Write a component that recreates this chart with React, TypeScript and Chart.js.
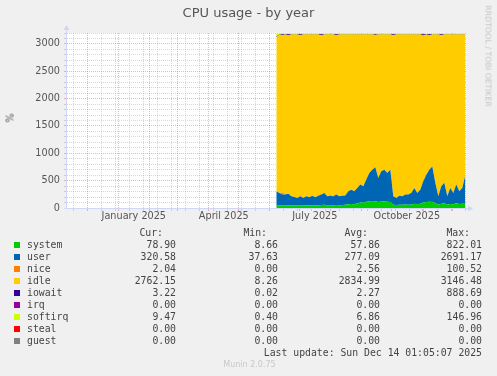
import React, { useEffect, useRef } from "react";
import { Chart, registerables } from "chart.js";
Chart.register(...registerables);

// ---- data (daily averages sampled every 3 days) ----
const dates = [
  "2025-06-08","2025-06-11","2025-06-14","2025-06-17","2025-06-20","2025-06-23","2025-06-26","2025-06-29",
  "2025-07-02","2025-07-05","2025-07-08","2025-07-11","2025-07-14","2025-07-17","2025-07-20","2025-07-23","2025-07-26","2025-07-29",
  "2025-08-01","2025-08-04","2025-08-07","2025-08-10","2025-08-13","2025-08-16","2025-08-19","2025-08-22","2025-08-25","2025-08-28","2025-08-31",
  "2025-09-03","2025-09-06","2025-09-09","2025-09-12","2025-09-15","2025-09-18","2025-09-21","2025-09-24","2025-09-27","2025-09-30",
  "2025-10-03","2025-10-06","2025-10-09","2025-10-12","2025-10-15","2025-10-18","2025-10-21","2025-10-24","2025-10-27","2025-10-30",
  "2025-11-02","2025-11-05","2025-11-08","2025-11-11","2025-11-14","2025-11-17","2025-11-20","2025-11-23","2025-11-26","2025-11-29",
  "2025-12-02","2025-12-05","2025-12-08","2025-12-11","2025-12-14",
];
const system = [
  55,50,50,50,52,48,45,45,
  50,45,50,48,50,48,52,55,58,50,
  52,50,55,52,55,58,70,75,70,85,100,
  95,115,125,130,125,110,120,125,115,110,
  60,55,60,58,62,60,65,80,70,80,
  100,110,115,110,90,60,80,85,60,75,
  70,85,75,80,80,
];
const user = [
  250,225,195,195,208,167,155,140,
  165,140,165,147,175,147,173,190,217,165,
  173,165,190,163,170,172,235,260,235,280,330,
  305,405,515,570,620,440,550,575,525,590,
  155,130,165,157,183,185,210,285,205,255,
  390,500,585,650,370,155,320,375,155,290,
  205,345,230,285,520,
];
const nice = [
  3,6,35,8,3,3,3,3,
  3,3,3,3,3,3,3,3,3,3,
  3,3,3,3,3,3,3,3,3,3,3,
  3,3,3,3,3,3,3,3,3,3,
  3,3,3,3,3,3,3,3,3,3,
  3,3,3,3,3,3,3,3,3,3,
  3,3,3,3,2,
];
const idle = [
  2814,2884,2880,2920,2892,2955,2970,2985,
  2942,2985,2955,2975,2945,2975,2945,2907,2895,2955,
  2945,2955,2912,2955,2945,2940,2865,2835,2865,2805,2740,
  2770,2650,2530,2470,2417,2620,2500,2470,2530,2470,
  2942,2985,2945,2955,2925,2925,2895,2805,2895,2835,
  2662,2560,2452,2410,2710,2955,2757,2710,2955,2805,
  2895,2740,2865,2805,2568,
];
const iowait = [
  20,2,15,2,20,2,2,2,
  15,2,2,2,2,2,2,20,2,2,
  2,2,15,2,2,2,2,2,2,2,2,
  2,2,2,2,10,2,2,2,2,2,
  15,2,2,2,2,2,2,2,2,2,
  20,2,20,2,2,2,15,2,2,2,
  2,2,2,2,3,
];
const irq = [
  0,0,0,0,0,0,0,0,
  0,0,0,0,0,0,0,0,0,0,
  0,0,0,0,0,0,0,0,0,0,0,
  0,0,0,0,0,0,0,0,0,0,
  0,0,0,0,0,0,0,0,0,0,
  0,0,0,0,0,0,0,0,0,0,
  0,0,0,0,0,
];
const softirq = [
  40,15,7,7,7,7,7,7,
  7,7,7,7,7,7,7,7,7,7,
  7,7,7,7,7,7,7,7,7,7,7,
  7,7,7,7,7,7,7,7,7,7,
  7,7,7,7,7,7,7,7,7,7,
  7,7,7,7,7,7,7,7,7,7,
  7,7,7,7,9,
];
const steal = [
  0,0,0,0,0,0,0,0,
  0,0,0,0,0,0,0,0,0,0,
  0,0,0,0,0,0,0,0,0,0,0,
  0,0,0,0,0,0,0,0,0,0,
  0,0,0,0,0,0,0,0,0,0,
  0,0,0,0,0,0,0,0,0,0,
  0,0,0,0,0,
];
const guest = [
  0,0,0,0,0,0,0,0,
  0,0,0,0,0,0,0,0,0,0,
  0,0,0,0,0,0,0,0,0,0,0,
  0,0,0,0,0,0,0,0,0,0,
  0,0,0,0,0,0,0,0,0,0,
  0,0,0,0,0,0,0,0,0,0,
  0,0,0,0,0,
];

const seriesNames = ["system","user","nice","idle","iowait","irq","softirq","steal","guest"];
const seriesColors = ["#00cc00","#0066b3","#ff8000","#ffcc00","#330099","#990099","#ccff00","#ff0000","#808080"];
const curVals = ["78.90","320.58","2.04","2762.15","3.22","0.00","9.47","0.00","0.00"];
const minVals = ["8.66","37.63","0.00","8.26","0.02","0.00","0.40","0.00","0.00"];
const avgVals = ["57.86","277.09","2.56","2834.99","2.27","0.00","6.86","0.00","0.00"];
const maxVals = ["822.01","2691.17","100.52","3146.48","888.69","0.00","146.96","0.00","0.00"];

// axis
const xStart = "2024-11-10";
const xEnd = "2025-12-14";
const monthGrid = [
  "2024-12-01","2025-01-01","2025-02-01","2025-03-01","2025-04-01","2025-05-01","2025-06-01",
  "2025-07-01","2025-08-01","2025-09-01","2025-10-01","2025-11-01","2025-12-01",
];
const minorGridStart = "2024-11-17";
const xTickMonths = ["2025-01-01","2025-04-01","2025-07-01","2025-10-01"];
const xTickLabels = ["January 2025","April 2025","July 2025","October 2025"];
const yMax = 3200;

const dayOf = (s: string) => {
  const [y, m, d] = s.split("-").map(Number);
  return (Date.UTC(y, m - 1, d) - Date.UTC(2024, 11, 1)) / 86400000;
};

const MAJOR = "rgba(222,79,79,0.42)";
const MINOR = "rgba(143,143,143,0.36)";
const AXIS = "#CFD6F8";
const FONT = "#555";

export default function App() {
  const ref = useRef<HTMLCanvasElement>(null);
  useEffect(() => {
    document.body.style.margin = "0";
    const valuesList = [system, user, nice, idle, iowait, irq, softirq, steal, guest];
    const datasets = valuesList.map((vals, k) => ({
      label: seriesNames[k],
      data: vals.map((v, i) => ({ x: dayOf(dates[i]), y: v })),
      backgroundColor: seriesColors[k],
      borderColor: seriesColors[k],
      borderWidth: seriesNames[k] === "softirq" ? 1 : 0,
      pointRadius: 0,
      tension: 0,
      fill: k === 0 ? "origin" : "-1",
    }));

    const majorDays = monthGrid.map(dayOf);
    const minorDays: number[] = [];
    for (let d = dayOf(minorGridStart); d <= dayOf(xEnd); d += 14) minorDays.push(d);
    const labelDays = xTickMonths.map((m) => dayOf(m) + 15.5);
    const xMin = dayOf(xStart) - 0.3;
    const xMax = xMin + 400;

    const kind = (v: number) => {
      if (majorDays.some((d) => Math.abs(d - v) < 0.01)) return "major";
      if (minorDays.some((d) => Math.abs(d - v) < 0.01)) return "minor";
      return "label";
    };

    const bgPlugin = {
      id: "bg",
      beforeDraw(chart: any) {
        const { ctx, chartArea: a } = chart;
        ctx.save();
        ctx.fillStyle = "#ffffff";
        ctx.fillRect(a.left, a.top, a.right - a.left, a.bottom - a.top);
        ctx.restore();
      },
      afterDraw(chart: any) {
        const { ctx, chartArea: a } = chart;
        ctx.save();
        ctx.strokeStyle = AXIS;
        ctx.fillStyle = AXIS;
        ctx.lineWidth = 1;
        const x0 = Math.floor(a.left) + 0.5;
        const y0 = Math.floor(a.bottom) + 0.5;
        ctx.beginPath();
        ctx.moveTo(x0, a.top);
        ctx.lineTo(x0, a.top - 4);
        ctx.moveTo(a.right, y0);
        ctx.lineTo(a.right + 3, y0);
        ctx.moveTo(x0 - 2, y0);
        ctx.lineTo(x0, y0);
        ctx.stroke();
        ctx.beginPath();
        ctx.moveTo(x0, a.top - 8);
        ctx.lineTo(x0 - 3, a.top - 3);
        ctx.lineTo(x0 + 3, a.top - 3);
        ctx.closePath();
        ctx.fill();
        ctx.beginPath();
        ctx.moveTo(a.right + 7, y0);
        ctx.lineTo(a.right + 2, y0 - 3);
        ctx.lineTo(a.right + 2, y0 + 3);
        ctx.closePath();
        ctx.fill();
        ctx.restore();
      },
    };

    const chart = new Chart(ref.current!, {
      type: "line",
      data: { datasets } as any,
      plugins: [bgPlugin],
      options: {
        animation: false,
        responsive: false,
        devicePixelRatio: 1,
        layout: { padding: { left: 0, top: 33, right: 31, bottom: 148 } },
        plugins: { legend: { display: false }, tooltip: { enabled: false }, title: { display: false } },
        scales: {
          x: {
            type: "linear",
            min: xMin,
            max: xMax,
            z: 1,
            afterFit: (s: any) => { s.height = 20; },
            afterBuildTicks: (s: any) => {
              const all = [...majorDays, ...minorDays.filter((d) => !majorDays.includes(d)), ...labelDays];
              s.ticks = all.sort((a, b) => a - b).map((v) => ({ value: v }));
            },
            grid: {
              color: (c: any) => {
                const k = kind(c.tick?.value);
                return k === "major" ? MAJOR : k === "minor" ? MINOR : "rgba(0,0,0,0)";
              },
              drawTicks: true,
              tickLength: 3,
              lineWidth: 1,
            },
            border: { display: true, color: AXIS, width: 1, dash: [1, 1] },
            ticks: {
              autoSkip: false,
              maxRotation: 0,
              minRotation: 0,
              padding: 0,
              color: FONT,
              font: { family: "DejaVu Sans", size: 9.7 },
              callback: (v: any) => {
                const i = labelDays.findIndex((d) => Math.abs(d - v) < 0.01);
                return i >= 0 ? xTickLabels[i] : "";
              },
            },
          },
          y: {
            type: "linear",
            stacked: true,
            min: 0,
            max: yMax,
            z: 1,
            afterFit: (s: any) => { s.width = 66; },
            afterBuildTicks: (s: any) => {
              const t = [];
              for (let v = 0; v <= yMax; v += 100) t.push({ value: v });
              s.ticks = t;
            },
            grid: {
              color: (c: any) => {
                const v = c.tick?.value;
                if (v === 0) return "rgba(0,0,0,0)";
                return v % 500 === 0 ? MAJOR : MINOR;
              },
              drawTicks: true,
              tickLength: 2,
            },
            border: { display: true, color: AXIS, width: 1, dash: [1, 1] },
            ticks: {
              autoSkip: false,
              padding: 4,
              color: FONT,
              font: { family: "DejaVu Sans", size: 9.7 },
              callback: (v: any) => (v % 500 === 0 ? String(v) : ""),
            },
          },
        },
      } as any,
    });
    return () => chart.destroy();
  }, []);

  const mono: React.CSSProperties = {
    position: "absolute",
    fontFamily: "'DejaVu Sans Mono', monospace",
    fontSize: "9.8px",
    lineHeight: "12px",
    color: "#444",
    whiteSpace: "pre",
  };
  const rowY = (i: number) => 239 + i * 12;
  const cols = [
    { head: "Cur:", headEnd: 163, end: 176, vals: curVals },
    { head: "Min:", headEnd: 267, end: 278, vals: minVals },
    { head: "Avg:", headEnd: 368, end: 380, vals: avgVals },
    { head: "Max:", headEnd: 470, end: 482, vals: maxVals },
  ];

  return (
    <div style={{ position: "fixed", left: 0, top: 0, width: 497, height: 376, background: "#f0f0f0", overflow: "hidden" }}>
      <canvas ref={ref} width={497} height={376} style={{ position: "absolute", left: 0, top: 0, width: 497, height: 376 }} />
      <div style={{ position: "absolute", left: 0, width: 497, top: 5, textAlign: "center", fontFamily: "'DejaVu Sans'", fontSize: "13px", lineHeight: "16px", color: "#555" }}>
        CPU usage - by year
      </div>
      <div style={{ position: "absolute", left: 10, top: 118, transform: "translate(-50%,-50%) rotate(-90deg)", fontFamily: "'DejaVu Sans'", fontSize: "9.7px", color: FONT, whiteSpace: "pre" }}>
        %
      </div>
      <div style={{ position: "absolute", left: 487.5, top: 56, transform: "translate(-50%,-50%) rotate(90deg)", fontFamily: "'DejaVu Sans'", fontSize: "7.9px", color: "#c4c4c4", whiteSpace: "pre" }}>
        RRDTOOL / TOBI OETIKER
      </div>
      {cols.map((c) => (
        <div key={c.head} style={{ ...mono, right: 497 - c.headEnd, top: 227 }}>{c.head}</div>
      ))}
      {seriesNames.map((n, i) => (
        <React.Fragment key={n}>
          <div style={{ position: "absolute", left: 14, top: rowY(i) + 3, width: 6, height: 6, background: seriesColors[i] }} />
          <div style={{ ...mono, left: 27, top: rowY(i) }}>{n}</div>
          {cols.map((c) => (
            <div key={c.head} style={{ ...mono, right: 497 - c.end, top: rowY(i), textAlign: "right" }}>{c.vals[i]}</div>
          ))}
        </React.Fragment>
      ))}
      <div style={{ ...mono, right: 497 - 482, top: 347, textAlign: "right" }}>Last update: Sun Dec 14 01:05:07 2025</div>
      <div style={{ position: "absolute", left: 0, width: 497, top: 360, textAlign: "center", fontFamily: "'DejaVu Sans'", fontSize: "8px", lineHeight: "10px", color: "#c8c8c8", paddingLeft: 1 }}>
        Munin 2.0.75
      </div>
    </div>
  );
}
